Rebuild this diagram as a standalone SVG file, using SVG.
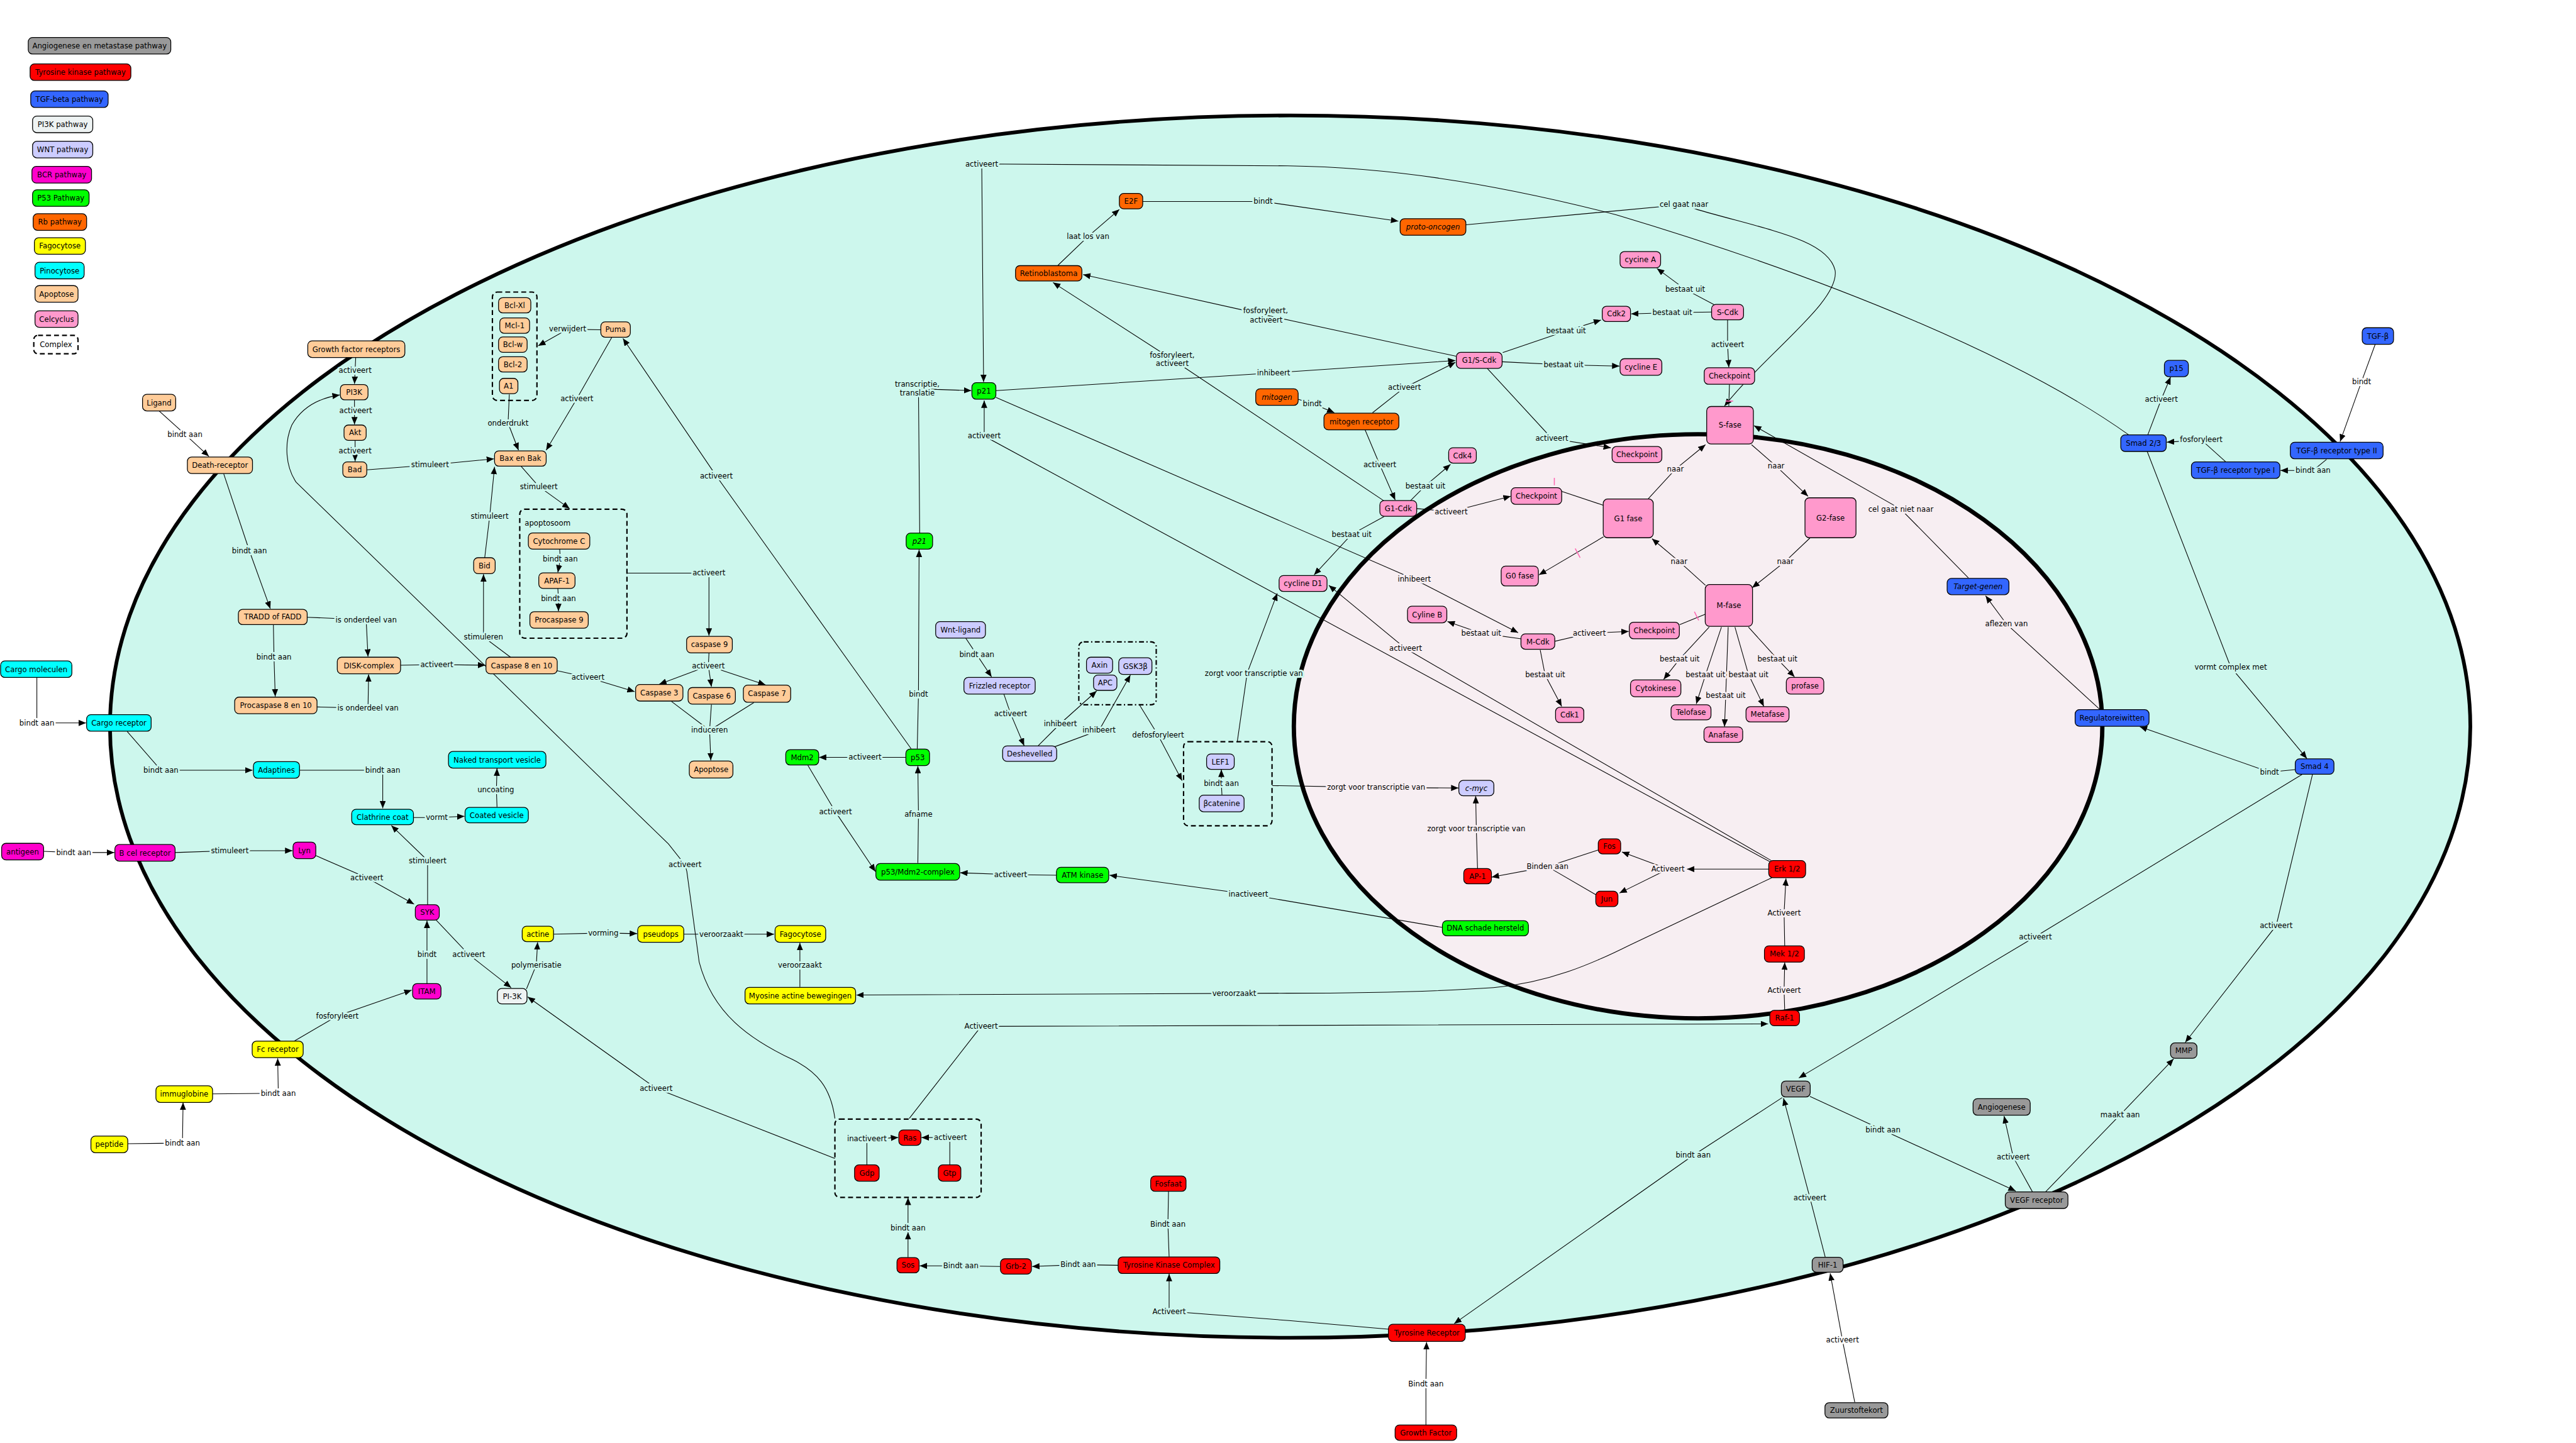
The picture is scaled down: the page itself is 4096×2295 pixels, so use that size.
<svg xmlns="http://www.w3.org/2000/svg" width="4096" height="2295" viewBox="0 0 4096 2295">
<defs>
<marker id="ah" viewBox="0 0 12 10" refX="12" refY="5" markerWidth="12" markerHeight="10" markerUnits="userSpaceOnUse" orient="auto"><path d="M0,0 L12,5 L0,10 z" fill="#000"/></marker>
<style>
.nd rect{stroke:#000;stroke-width:1.3;rx:7px;ry:7px}
.nd text{font:12px "DejaVu Sans",sans-serif;text-anchor:middle;fill:#000}
.it text{font-style:italic}
.gy rect{fill:#999999}.rd rect{fill:#ff0000}.bl rect{fill:#3366ff}.pi rect{fill:#eef3f3}.wn rect{fill:#ccccff}
.bc rect{fill:#ff00cc}.gr rect{fill:#00ff00}.rb rect{fill:#ff6600}.ye rect{fill:#ffff00}.cy rect{fill:#00ffff}
.ap rect{fill:#ffcc99}.cc rect{fill:#ff99cc}.wh rect{fill:#ffffff}
.cx{fill:none;stroke:#000;stroke-width:2.2;stroke-dasharray:8 5;rx:8px;ry:8px}
.cxd{fill:none;stroke:#000;stroke-width:2.2;stroke-dasharray:8 4 2 4;rx:8px;ry:8px}
.e{fill:none;stroke:#000;stroke-width:1.1}
.a{marker-end:url(#ah)}
.pk{stroke:#ff66b2;stroke-width:1.6}
.lb{font:12px "DejaVu Sans",sans-serif;text-anchor:middle;fill:#000;paint-order:stroke;stroke:#cdf7ed;stroke-width:6px;stroke-linejoin:round}
.lb.n{stroke:#f7eef2}
.lb.w{stroke:#ffffff}
.ct{font:12px "DejaVu Sans",sans-serif;fill:#000}
</style>
</defs>
<rect width="4096" height="2295" fill="#fff"/>
<g transform="scale(0.97687)">
<g id="cell">
<ellipse cx="2100" cy="1183" rx="1921" ry="995" fill="#cdf7ed" stroke="#000" stroke-width="6"/>
<ellipse cx="2764" cy="1182.5" rx="658" ry="475.5" fill="#f7eef2" stroke="#000" stroke-width="7"/>
</g>
<g id="complexes">
<rect class="cx" x="801.5" y="475.5" width="72.5" height="176.5"/>
<rect class="cx" x="846" y="829" width="174.5" height="210"/>
<text class="ct" x="854" y="856">apoptosoom</text>
<rect class="cxd" x="1756" y="1045" width="126" height="102.4"/>
<rect class="cx" x="1926.5" y="1207.5" width="144" height="137"/>
<rect class="cx" x="1359" y="1822" width="238" height="127.5"/>
</g>
<g id="connectors">
<path class="e a" d="M259,669 L301,707 L340,743"/>
<path class="e a" d="M579,582 L578,603 L577,625"/>
<path class="e a" d="M577,651 L577,691"/>
<path class="e a" d="M578,717 L578,751"/>
<path class="e a" d="M597,765 L700,757 L804,747"/>
<path class="e a" d="M978,537 L924,536 L876,563"/>
<path class="e a" d="M996,549 L939,649 L889,733"/>
<path class="e a" d="M829,642 L827,689 L844,733"/>
<path class="e a" d="M789,908 L797,841 L805,760"/>
<path class="e a" d="M848,759 L877,792 L927,828"/>
<path class="e a" d="M364,771 L406,897 L440,991"/>
<path class="e a" d="M500,1005 L596,1009 L599,1069"/>
<path class="e a" d="M445,1017 L446,1070 L448,1134"/>
<path class="e a" d="M516,1151 L599,1153 L600,1098"/>
<path class="e a" d="M652,1083 L711,1082 L790,1083"/>
<path class="e a" d="M831,1070 L787,1037 L787,935"/>
<path class="e a" d="M911,894 L912,910 L908,932"/>
<path class="e a" d="M908,958 L909,975 L909,995"/>
<path class="e a" d="M1020,933 L1154,933 L1154,1035"/>
<path class="e a" d="M907,1092 L957,1103 L1033,1126"/>
<path class="e" d="M1154,1063 L1153,1084"/>
<path class="e a" d="M1153,1084 L1073,1114"/>
<path class="e a" d="M1153,1084 L1158,1118"/>
<path class="e a" d="M1153,1084 L1246,1115"/>
<path class="e" d="M1093,1142 L1155,1189 M1158,1147 L1155,1189 M1227,1144 L1155,1189"/>
<path class="e a" d="M1155,1189 L1157,1238"/>
<path class="e a" d="M1483,1219 L1166,775 L1014,551"/>
<path class="e a" d="M60,1103 L60,1177 L140,1177"/>
<path class="e a" d="M207,1191 L262,1254 L411,1254"/>
<path class="e a" d="M488,1254 L623,1254 L623,1316"/>
<path class="e a" d="M673,1331 L711,1331 L756,1329"/>
<path class="e a" d="M809,1314 L808,1286 L809,1251"/>
<path class="e a" d="M71,1386 L120,1388 L186,1388"/>
<path class="e a" d="M285,1388 L374,1385 L476,1385"/>
<path class="e a" d="M514,1393 L597,1429 L674,1472"/>
<path class="e a" d="M696,1473 L696,1401 L637,1344"/>
<path class="e a" d="M695,1601 L695,1554 L695,1499"/>
<path class="e a" d="M710,1498 L763,1554 L832,1608"/>
<path class="e a" d="M857,1610 L873,1571 L875,1534"/>
<path class="e a" d="M901,1521 L982,1519 L1037,1520"/>
<path class="e a" d="M1113,1521 L1174,1521 L1260,1521"/>
<path class="e a" d="M1302,1607 L1302,1571 L1302,1535"/>
<path class="e a" d="M479,1695 L549,1654 L670,1612"/>
<path class="e a" d="M346,1781 L453,1780 L452,1723"/>
<path class="e a" d="M208,1862 L297,1861 L298,1795"/>
<path class="e a" d="M1359,1886 L1068,1772 L859,1623"/>
<path class="e a" d="M1359,1821 C1352,1770 1330,1745 1290,1725 C1220,1692 1160,1650 1138,1566 L1118,1419 L1115,1408 L1088,1374 L482,785 C465,760 462,722 475,692 C492,662 520,648 553,643"/>
<path class="e a" d="M1493,1219 L1495,1130 L1496,895"/>
<path class="e a" d="M1497,868 L1495,633 L1581,636"/>
<path class="e a" d="M3465,708 C3300,590 3000,460 2632,350 C2420,295 2250,272 2096,270 L1598,267 L1601,622"/>
<path class="e a" d="M1860,328 L2056,328 L2276,360"/>
<path class="e a" d="M1722,432 L1771,385 L1822,341"/>
<path class="e a" d="M2370,580 L2060,513 L1763,447"/>
<path class="e a" d="M2252,815 L1908,585 L1714,460"/>
<path class="e a" d="M1621,636 L2073,607 L2369,587"/>
<path class="e a" d="M2113,650 L2136,657 L2172,672"/>
<path class="e a" d="M2234,672 L2286,631 L2369,590"/>
<path class="e a" d="M2222,700 L2246,757 L2271,814"/>
<path class="e a" d="M2296,815 L2320,791 L2361,756"/>
<path class="e a" d="M2446,574 L2549,539 L2606,521"/>
<path class="e a" d="M2445,589 L2545,594 L2636,596"/>
<path class="e a" d="M2421,600 L2526,714 L2622,729"/>
<path class="e a" d="M2790,496 L2743,471 L2697,437"/>
<path class="e a" d="M2786,508 L2722,509 L2655,511"/>
<path class="e a" d="M2812,521 L2812,561 L2814,598"/>
<path class="e" d="M2815,626 L2814,661"/>
<path class="e a" d="M2386,366 L2741,333 L2762,341 C2880,375 2975,390 2987,440 C2995,490 2880,570 2807,661"/>
<path class="e a" d="M3204,941 L3094,829 L2855,693"/>
<path class="e a" d="M2683,812 L2727,764 L2776,724"/>
<path class="e a" d="M2851,724 L2891,759 L2943,808"/>
<path class="e a" d="M2946,876 L2906,914 L2852,957"/>
<path class="e a" d="M2776,953 L2733,914 L2689,877"/>
<path class="e a" d="M2610,874 L2505,936"/>
<path class="e" d="M2776,1000 L2734,1017"/>
<path class="e" d="M2542,800 L2611,823"/>
<path class="e a" d="M2306,828 L2362,833 L2459,808"/>
<path class="e a" d="M2253,841 L2200,870 L2139,936"/>
<path class="e a" d="M1621,647 L2302,943 L2471,1030"/>
<path class="e a" d="M2476,1040 L2411,1031 L2356,1012"/>
<path class="e a" d="M2531,1044 L2587,1031 L2651,1028"/>
<path class="e a" d="M2507,1058 L2515,1099 L2542,1150"/>
<path class="e a" d="M2782,1021 L2734,1073 L2708,1106"/>
<path class="e a" d="M2802,1021 L2776,1099 L2761,1146"/>
<path class="e a" d="M2813,1021 L2809,1132 L2807,1183"/>
<path class="e a" d="M2824,1021 L2846,1098 L2871,1150"/>
<path class="e a" d="M2846,1021 L2893,1073 L2921,1102"/>
<path class="e a" d="M2883,1401 L2288,1056 L2163,953"/>
<path class="e a" d="M2881,1403 L1602,710 L1602,652"/>
<path class="e a" d="M2014,1207 L2030,1096 L2079,966"/>
<path class="e a" d="M2071,1279 L2240,1282 L2374,1283"/>
<path class="e a" d="M2405,1414 L2403,1349 L2402,1296"/>
<path class="e" d="M2601,1384 L2519,1411 M2598,1457 L2519,1411"/>
<path class="e a" d="M2519,1411 L2428,1428"/>
<path class="e a" d="M2879,1415 L2746,1415"/>
<path class="e a" d="M2715,1415 L2640,1387"/>
<path class="e a" d="M2715,1415 L2636,1454"/>
<path class="e a" d="M2905,1540 L2904,1486 L2907,1430"/>
<path class="e a" d="M2905,1645 L2904,1612 L2905,1567"/>
<path class="e a" d="M2884,1429 L2652,1539 C2590,1570 2520,1600 2431,1608 C2300,1617 2150,1617 2096,1617 L1394,1620"/>
<path class="e a" d="M2348,1510 L2032,1456 L1806,1425"/>
<path class="e a" d="M1720,1425 L1645,1424 L1563,1421"/>
<path class="e a" d="M1474,1233 L1408,1233 L1333,1233"/>
<path class="e a" d="M1315,1246 L1360,1322 L1425,1419"/>
<path class="e a" d="M1494,1405 L1495,1326 L1494,1247"/>
<path class="e a" d="M1572,1039 L1590,1066 L1614,1102"/>
<path class="e a" d="M1634,1130 L1645,1162 L1667,1214"/>
<path class="e a" d="M1690,1214 L1726,1178 L1785,1125"/>
<path class="e a" d="M1716,1216 L1789,1189 L1840,1099"/>
<path class="e a" d="M1855,1148 L1885,1197 L1924,1271"/>
<path class="e a" d="M1989,1294 L1988,1276 L1988,1253"/>
<path class="e" d="M1411,1896 L1411,1856"/>
<path class="e a" d="M1443,1853 L1462,1852"/>
<path class="e" d="M1546,1896 L1546,1856"/>
<path class="e a" d="M1520,1852 L1500,1852"/>
<path class="e a" d="M1478,2047 L1478,2006"/>
<path class="e a" d="M1478,1992 L1478,1950"/>
<path class="e a" d="M1628,2062 L1564,2061 L1497,2061"/>
<path class="e a" d="M1820,2060 L1755,2059 L1680,2062"/>
<path class="e" d="M1902,1940 L1901,1993 L1903,2046"/>
<path class="e a" d="M2260,2164 L2098,2150 L1903,2135 L1903,2074"/>
<path class="e a" d="M1480,1821 L1597,1671 L2878,1667"/>
<path class="e a" d="M2321,2320 L2321,2253 L2322,2185"/>
<path class="e a" d="M2901,1787 L2756,1881 L2367,2155"/>
<path class="e a" d="M2971,2047 L2946,1950 L2903,1788"/>
<path class="e a" d="M3019,2283 L2999,2182 L2979,2073"/>
<path class="e a" d="M2946,1785 L3065,1840 L3281,1939"/>
<path class="e a" d="M3308,1940 L3277,1884 L3262,1817"/>
<path class="e a" d="M3330,1940 L3451,1815 L3538,1724"/>
<path class="e a" d="M3764,1261 L3705,1507 L3557,1697"/>
<path class="e a" d="M3747,1261 L3313,1525 L2928,1755"/>
<path class="e a" d="M3736,1253 L3694,1257 L3483,1183"/>
<path class="e a" d="M3418,1155 L3266,1016 L3232,970"/>
<path class="e a" d="M3495,735 L3631,1086 L3755,1235"/>
<path class="e a" d="M3866,561 L3844,621 L3809,719"/>
<path class="e a" d="M3787,748 L3765,766 L3712,766"/>
<path class="e a" d="M3623,752 L3583,716 L3527,720"/>
<path class="e a" d="M3496,708 L3518,650 L3533,614"/>
<path class="pk" d="M2809,653 L2821,653 M2564,893 L2572,908 M2758,996 L2765,1010 M2530,778 L2530,790"/>
<text class="lb w" x="301" y="711">bindt aan</text>
<text class="lb" x="578" y="607">activeert</text>
<text class="lb" x="579" y="673">activeert</text>
<text class="lb" x="578" y="738">activeert</text>
<text class="lb" x="700" y="761">stimuleert</text>
<text class="lb" x="924" y="539">verwijdert</text>
<text class="lb" x="939" y="653">activeert</text>
<text class="lb" x="827" y="693">onderdrukt</text>
<text class="lb" x="797" y="845">stimuleert</text>
<text class="lb" x="877" y="796">stimuleert</text>
<text class="lb" x="406" y="901">bindt aan</text>
<text class="lb" x="596" y="1013">is onderdeel van</text>
<text class="lb" x="446" y="1074">bindt aan</text>
<text class="lb" x="599" y="1157">is onderdeel van</text>
<text class="lb" x="711" y="1086">activeert</text>
<text class="lb" x="787" y="1041">stimuleren</text>
<text class="lb" x="912" y="914">bindt aan</text>
<text class="lb" x="909" y="979">bindt aan</text>
<text class="lb" x="1154" y="937">activeert</text>
<text class="lb" x="957" y="1107">activeert</text>
<text class="lb" x="1153" y="1088">activeert</text>
<text class="lb" x="1155" y="1193">induceren</text>
<text class="lb" x="1166" y="779">activeert</text>
<text class="lb w" x="60" y="1181">bindt aan</text>
<text class="lb" x="262" y="1258">bindt aan</text>
<text class="lb" x="623" y="1258">bindt aan</text>
<text class="lb" x="711" y="1335">vormt</text>
<text class="lb" x="807" y="1290">uncoating</text>
<text class="lb w" x="120" y="1392">bindt aan</text>
<text class="lb" x="374" y="1389">stimuleert</text>
<text class="lb" x="597" y="1433">activeert</text>
<text class="lb" x="696" y="1405">stimuleert</text>
<text class="lb" x="695" y="1558">bindt</text>
<text class="lb" x="763" y="1558">activeert</text>
<text class="lb" x="873" y="1575">polymerisatie</text>
<text class="lb" x="982" y="1523">vorming</text>
<text class="lb" x="1174" y="1525">veroorzaakt</text>
<text class="lb" x="1302" y="1575">veroorzaakt</text>
<text class="lb" x="549" y="1658">fosforyleert</text>
<text class="lb w" x="453" y="1784">bindt aan</text>
<text class="lb w" x="297" y="1865">bindt aan</text>
<text class="lb" x="1068" y="1776">activeert</text>
<text class="lb" x="1115" y="1412">activeert</text>
<text class="lb" x="1495" y="1134">bindt</text>
<text class="lb" x="1493" y="630">transcriptie,</text>
<text class="lb" x="1493" y="644">translatie</text>
<text class="lb" x="1598" y="271">activeert</text>
<text class="lb" x="2056" y="332">bindt</text>
<text class="lb" x="1771" y="389">laat los van</text>
<text class="lb" x="2060" y="510">fosforyleert,</text>
<text class="lb" x="2061" y="525">activeert</text>
<text class="lb" x="1908" y="582">fosforyleert,</text>
<text class="lb" x="1908" y="596">activeert</text>
<text class="lb" x="2073" y="611">inhibeert</text>
<text class="lb" x="2136" y="661">bindt</text>
<text class="lb" x="2286" y="635">activeert</text>
<text class="lb" x="2246" y="761">activeert</text>
<text class="lb" x="2320" y="795">bestaat uit</text>
<text class="lb" x="2549" y="543">bestaat uit</text>
<text class="lb" x="2545" y="598">bestaat uit</text>
<text class="lb" x="2526" y="718">activeert</text>
<text class="lb" x="2743" y="475">bestaat uit</text>
<text class="lb" x="2722" y="513">bestaat uit</text>
<text class="lb" x="2812" y="565">activeert</text>
<text class="lb" x="2741" y="337">cel gaat naar</text>
<text class="lb n" x="3094" y="833">cel gaat niet naar</text>
<text class="lb n" x="2727" y="768">naar</text>
<text class="lb n" x="2891" y="763">naar</text>
<text class="lb n" x="2906" y="918">naar</text>
<text class="lb n" x="2733" y="918">naar</text>
<text class="lb n" x="2362" y="837">activeert</text>
<text class="lb" x="2200" y="874">bestaat uit</text>
<text class="lb n" x="2302" y="947">inhibeert</text>
<text class="lb n" x="2411" y="1035">bestaat uit</text>
<text class="lb n" x="2587" y="1035">activeert</text>
<text class="lb n" x="2515" y="1103">bestaat uit</text>
<text class="lb n" x="2734" y="1077">bestaat uit</text>
<text class="lb n" x="2776" y="1103">bestaat uit</text>
<text class="lb n" x="2809" y="1136">bestaat uit</text>
<text class="lb n" x="2846" y="1102">bestaat uit</text>
<text class="lb n" x="2893" y="1077">bestaat uit</text>
<text class="lb n" x="2288" y="1060">activeert</text>
<text class="lb" x="1602" y="714">activeert</text>
<text class="lb" x="2041" y="1100">zorgt voor transcriptie van</text>
<text class="lb n" x="2240" y="1286">zorgt voor transcriptie van</text>
<text class="lb n" x="2403" y="1353">zorgt voor transcriptie van</text>
<text class="lb n" x="2519" y="1415">Binden aan</text>
<text class="lb n" x="2715" y="1419">Activeert</text>
<text class="lb n" x="2904" y="1490">Activeert</text>
<text class="lb n" x="2904" y="1616">Activeert</text>
<text class="lb" x="2009" y="1622">veroorzaakt</text>
<text class="lb" x="2032" y="1460">inactiveert</text>
<text class="lb" x="1645" y="1428">activeert</text>
<text class="lb" x="1408" y="1237">activeert</text>
<text class="lb" x="1360" y="1326">activeert</text>
<text class="lb" x="1495" y="1330">afname</text>
<text class="lb" x="1590" y="1070">bindt aan</text>
<text class="lb" x="1645" y="1166">activeert</text>
<text class="lb" x="1726" y="1182">inhibeert</text>
<text class="lb" x="1789" y="1193">inhibeert</text>
<text class="lb" x="1885" y="1201">defosforyleert</text>
<text class="lb" x="1988" y="1280">bindt aan</text>
<text class="lb" x="1411" y="1858">inactiveert</text>
<text class="lb" x="1547" y="1856">activeert</text>
<text class="lb" x="1478" y="2003">bindt aan</text>
<text class="lb" x="1564" y="2065">Bindt aan</text>
<text class="lb" x="1755" y="2063">Bindt aan</text>
<text class="lb" x="1901" y="1997">Bindt aan</text>
<text class="lb" x="1903" y="2139">Activeert</text>
<text class="lb" x="1597" y="1675">Activeert</text>
<text class="lb w" x="2321" y="2257">Bindt aan</text>
<text class="lb" x="2756" y="1885">bindt aan</text>
<text class="lb" x="2946" y="1954">activeert</text>
<text class="lb w" x="2999" y="2186">activeert</text>
<text class="lb" x="3065" y="1844">bindt aan</text>
<text class="lb" x="3277" y="1888">activeert</text>
<text class="lb" x="3451" y="1819">maakt aan</text>
<text class="lb" x="3705" y="1511">activeert</text>
<text class="lb" x="3313" y="1529">activeert</text>
<text class="lb" x="3694" y="1261">bindt</text>
<text class="lb n" x="3266" y="1020">aflezen van</text>
<text class="lb" x="3631" y="1090">vormt complex met</text>
<text class="lb w" x="3844" y="625">bindt</text>
<text class="lb" x="3765" y="770">bindt aan</text>
<text class="lb" x="3583" y="720">fosforyleert</text>
<text class="lb" x="3518" y="654">activeert</text>
</g>
<g id="legend">
<g id="lg-angio" class="nd gy"><rect x="46" y="61" width="232" height="27"/><text x="162" y="78.8">Angiogenese en metastase pathway</text></g>
<g id="lg-tyr" class="nd rd"><rect x="49" y="104" width="164" height="27"/><text x="131" y="121.8">Tyrosine kinase pathway</text></g>
<g id="lg-tgf" class="nd bl"><rect x="50" y="148" width="126" height="27"/><text x="113" y="165.8">TGF-beta pathway</text></g>
<g id="lg-pi3k" class="nd pi"><rect x="53" y="189" width="98" height="27"/><text x="102" y="206.8">PI3K pathway</text></g>
<g id="lg-wnt" class="nd wn"><rect x="53" y="230" width="98" height="27"/><text x="102" y="247.8">WNT pathway</text></g>
<g id="lg-bcr" class="nd bc"><rect x="52" y="271" width="97" height="27"/><text x="100.5" y="288.8">BCR pathway</text></g>
<g id="lg-p53" class="nd gr"><rect x="53" y="309" width="92" height="27"/><text x="99" y="326.8">P53 Pathway</text></g>
<g id="lg-rb" class="nd rb"><rect x="54" y="348" width="87" height="27"/><text x="97.5" y="365.8">Rb pathway</text></g>
<g id="lg-fago" class="nd ye"><rect x="56" y="387" width="83" height="27"/><text x="97.5" y="404.8">Fagocytose</text></g>
<g id="lg-pino" class="nd cy"><rect x="57" y="427" width="80" height="27"/><text x="97" y="444.8">Pinocytose</text></g>
<g id="lg-apo" class="nd ap"><rect x="57" y="465" width="70" height="27"/><text x="92" y="482.8">Apoptose</text></g>
<g id="lg-cc" class="nd cc"><rect x="57" y="506" width="70" height="27"/><text x="92" y="523.8">Celcyclus</text></g>
<g id="lg-cx" class="nd"><rect x="55" y="546" width="72" height="30" style="fill:#fff;stroke-dasharray:8 5;stroke-width:2.2"/><text x="91" y="565.3">Complex</text></g>
</g>
<g id="n-growthfr" class="nd ap"><rect x="501" y="555" width="158" height="27"/><text x="580" y="572.8">Growth factor receptors</text></g>
<g id="n-pi3k" class="nd ap"><rect x="554" y="626" width="45" height="25"/><text x="576.5" y="642.8">PI3K</text></g>
<g id="n-akt" class="nd ap"><rect x="560" y="692" width="36" height="25"/><text x="578" y="708.8">Akt</text></g>
<g id="n-bad" class="nd ap"><rect x="558" y="752" width="39" height="25"/><text x="577.5" y="768.8">Bad</text></g>
<g id="n-ligand" class="nd ap"><rect x="232" y="642" width="54" height="27"/><text x="259" y="659.8">Ligand</text></g>
<g id="n-deathr" class="nd ap"><rect x="305" y="744" width="106" height="27"/><text x="358" y="761.8">Death-receptor</text></g>
<g id="n-baxbak" class="nd ap"><rect x="805" y="734" width="84" height="25"/><text x="847" y="750.8">Bax en Bak</text></g>
<g id="n-puma" class="nd ap"><rect x="978" y="524" width="48" height="25"/><text x="1002" y="540.8">Puma</text></g>
<g id="n-bclxl" class="nd ap"><rect x="811.5" y="484.5" width="52.5" height="25"/><text x="837.75" y="501.3">Bcl-Xl</text></g>
<g id="n-mcl1" class="nd ap"><rect x="813.5" y="517.6" width="48.5" height="25"/><text x="837.75" y="534.4">Mcl-1</text></g>
<g id="n-bclw" class="nd ap"><rect x="811.5" y="548.6" width="46.5" height="25"/><text x="834.75" y="565.4">Bcl-w</text></g>
<g id="n-bcl2" class="nd ap"><rect x="811.5" y="580.7" width="46.5" height="25"/><text x="834.75" y="597.5">Bcl-2</text></g>
<g id="n-a1" class="nd ap"><rect x="813" y="616" width="30" height="25"/><text x="828" y="632.8">A1</text></g>
<g id="n-tradd" class="nd ap"><rect x="388" y="992" width="112" height="25"/><text x="444" y="1008.8">TRADD of FADD</text></g>
<g id="n-disk" class="nd ap"><rect x="549" y="1070" width="103" height="27"/><text x="600.5" y="1087.8">DISK-complex</text></g>
<g id="n-procasp810" class="nd ap"><rect x="382" y="1135" width="134" height="27"/><text x="449" y="1152.8">Procaspase 8 en 10</text></g>
<g id="n-casp810" class="nd ap"><rect x="791" y="1070" width="116" height="27"/><text x="849" y="1087.8">Caspase 8 en 10</text></g>
<g id="n-bid" class="nd ap"><rect x="771" y="908" width="35" height="26"/><text x="788.5" y="925.3">Bid</text></g>
<g id="n-cytc" class="nd ap"><rect x="860" y="867.6" width="100" height="26.5"/><text x="910" y="885.2">Cytochrome C</text></g>
<g id="n-apaf" class="nd ap"><rect x="877" y="932.7" width="59" height="25.3"/><text x="906.5" y="949.6">APAF-1</text></g>
<g id="n-procasp9" class="nd ap"><rect x="862.5" y="995.8" width="95" height="27"/><text x="910" y="1013.6">Procaspase 9</text></g>
<g id="n-casp9" class="nd ap"><rect x="1117.6" y="1036" width="74.4" height="27"/><text x="1154.8" y="1053.8">caspase 9</text></g>
<g id="n-casp3" class="nd ap"><rect x="1034.6" y="1114.4" width="77" height="27"/><text x="1073.1" y="1132.2">Caspase 3</text></g>
<g id="n-casp6" class="nd ap"><rect x="1120" y="1119.4" width="77" height="27"/><text x="1158.5" y="1137.2">Caspase 6</text></g>
<g id="n-casp7" class="nd ap"><rect x="1210" y="1115.4" width="77" height="28"/><text x="1248.5" y="1133.7">Caspase 7</text></g>
<g id="n-apoptose" class="nd ap"><rect x="1122" y="1239" width="71" height="27.6"/><text x="1157.5" y="1257.1">Apoptose</text></g>
<g id="n-cargomol" class="nd cy"><rect x="1" y="1076" width="116" height="27"/><text x="59" y="1093.8">Cargo moleculen</text></g>
<g id="n-cargorec" class="nd cy"><rect x="141" y="1163.5" width="105" height="27"/><text x="193.5" y="1181.3">Cargo receptor</text></g>
<g id="n-adaptines" class="nd cy"><rect x="412.5" y="1240" width="75" height="27"/><text x="450" y="1257.8">Adaptines</text></g>
<g id="n-naked" class="nd cy"><rect x="730" y="1223.5" width="158.6" height="27"/><text x="809.3" y="1241.3">Naked transport vesicle</text></g>
<g id="n-clathrine" class="nd cy"><rect x="572.5" y="1317.6" width="100.5" height="25"/><text x="622.75" y="1334.4">Clathrine coat</text></g>
<g id="n-coated" class="nd cy"><rect x="757" y="1314.6" width="103" height="25"/><text x="808.5" y="1331.4">Coated vesicle</text></g>
<g id="n-antigeen" class="nd bc"><rect x="2.7" y="1373" width="68.3" height="27"/><text x="36.85" y="1390.8">antigeen</text></g>
<g id="n-bcr" class="nd bc"><rect x="187" y="1375" width="98" height="27"/><text x="236" y="1392.8">B cel receptor</text></g>
<g id="n-lyn" class="nd bc"><rect x="477" y="1371" width="37" height="27"/><text x="495.5" y="1388.8">Lyn</text></g>
<g id="n-syk" class="nd bc"><rect x="676" y="1473" width="39" height="25"/><text x="695.5" y="1489.8">SYK</text></g>
<g id="n-itam" class="nd bc"><rect x="671.6" y="1601.5" width="46.2" height="25"/><text x="694.7" y="1618.3">ITAM</text></g>
<g id="n-pi3k2" class="nd pi"><rect x="809.6" y="1609.4" width="48.2" height="25"/><text x="833.7" y="1626.2">PI-3K</text></g>
<g id="n-actine" class="nd ye"><rect x="850" y="1508" width="51" height="25"/><text x="875.5" y="1524.8">actine</text></g>
<g id="n-pseudops" class="nd ye"><rect x="1038" y="1507" width="75" height="27"/><text x="1075.5" y="1524.8">pseudops</text></g>
<g id="n-fagocytose" class="nd ye"><rect x="1261.6" y="1507" width="82.4" height="27"/><text x="1302.8" y="1524.8">Fagocytose</text></g>
<g id="n-myosine" class="nd ye"><rect x="1212.7" y="1607.5" width="180" height="27"/><text x="1302.7" y="1625.3">Myosine actine bewegingen</text></g>
<g id="n-fcrec" class="nd ye"><rect x="410.5" y="1695" width="83" height="27"/><text x="452" y="1712.8">Fc receptor</text></g>
<g id="n-immuglobine" class="nd ye"><rect x="253.8" y="1767.8" width="92.2" height="27"/><text x="299.9" y="1785.6">immuglobine</text></g>
<g id="n-peptide" class="nd ye"><rect x="148" y="1849.7" width="60" height="27"/><text x="178" y="1867.5">peptide</text></g>
<g id="n-p21" class="nd gr"><rect x="1582" y="623" width="39" height="27"/><text x="1601.5" y="640.8">p21</text></g>
<g id="n-p21gene" class="nd gr it"><rect x="1475" y="868" width="43" height="26"/><text x="1496.5" y="885.3">p21</text></g>
<g id="n-mdm2" class="nd gr"><rect x="1279" y="1220.5" width="53.6" height="25"/><text x="1305.8" y="1237.3">Mdm2</text></g>
<g id="n-p53" class="nd gr"><rect x="1474.5" y="1219.5" width="38.5" height="27"/><text x="1493.75" y="1237.3">p53</text></g>
<g id="n-p53mdm2" class="nd gr"><rect x="1425.7" y="1406" width="136.3" height="27"/><text x="1493.85" y="1423.8">p53/Mdm2-complex</text></g>
<g id="n-atm" class="nd gr"><rect x="1719.6" y="1412" width="85" height="25"/><text x="1762.1" y="1428.8">ATM kinase</text></g>
<g id="n-dna" class="nd gr"><rect x="2347.8" y="1499" width="140" height="24.5"/><text x="2417.8" y="1515.5">DNA schade hersteld</text></g>
<g id="n-wntlig" class="nd wn"><rect x="1523" y="1012" width="81" height="27"/><text x="1563.5" y="1029.8">Wnt-ligand</text></g>
<g id="n-frizzled" class="nd wn"><rect x="1569" y="1103" width="116" height="27"/><text x="1627" y="1120.8">Frizzled receptor</text></g>
<g id="n-desh" class="nd wn"><rect x="1632" y="1214.5" width="88" height="25"/><text x="1676" y="1231.3">Deshevelled</text></g>
<g id="n-axin" class="nd wn"><rect x="1768.5" y="1070" width="42.5" height="26"/><text x="1789.75" y="1087.3">Axin</text></g>
<g id="n-gsk" class="nd wn"><rect x="1821" y="1071" width="54" height="27"/><text x="1848" y="1088.8">GSK3β</text></g>
<g id="n-apc" class="nd wn"><rect x="1780" y="1099" width="38" height="25"/><text x="1799" y="1115.8">APC</text></g>
<g id="n-lef1" class="nd wn"><rect x="1964" y="1227.5" width="45" height="25"/><text x="1986.5" y="1244.3">LEF1</text></g>
<g id="n-bcat" class="nd wn"><rect x="1952" y="1294.6" width="73" height="27"/><text x="1988.5" y="1312.4">βcatenine</text></g>
<g id="n-cmyc" class="nd wn it"><rect x="2374.6" y="1270.6" width="57" height="25"/><text x="2403.1" y="1287.4">c-myc</text></g>
<g id="n-e2f" class="nd rb"><rect x="1822" y="315" width="38" height="25"/><text x="1841" y="331.8">E2F</text></g>
<g id="n-rb" class="nd rb"><rect x="1653" y="432.5" width="108" height="25"/><text x="1707" y="449.3">Retinoblastoma</text></g>
<g id="n-proto" class="nd rb it"><rect x="2279" y="356" width="107" height="27"/><text x="2332.5" y="373.8">proto-oncogen</text></g>
<g id="n-mitogen" class="nd rb it"><rect x="2044" y="633" width="69" height="27"/><text x="2078.5" y="650.8">mitogen</text></g>
<g id="n-mitorec" class="nd rb"><rect x="2155" y="672.8" width="122" height="27"/><text x="2216" y="690.6">mitogen receptor</text></g>
<g id="n-cycA" class="nd cc"><rect x="2637" y="409.5" width="66" height="26.5"/><text x="2670" y="427">cycine A</text></g>
<g id="n-cdk2" class="nd cc"><rect x="2608" y="498.6" width="46" height="25"/><text x="2631" y="515.4">Cdk2</text></g>
<g id="n-scdk" class="nd cc"><rect x="2786" y="495.6" width="52" height="25"/><text x="2812" y="512.4">S-Cdk</text></g>
<g id="n-g1scdk" class="nd cc"><rect x="2370.5" y="573.7" width="74.5" height="26"/><text x="2407.75" y="591">G1/S-Cdk</text></g>
<g id="n-cycE" class="nd cc"><rect x="2637" y="584" width="68" height="27"/><text x="2671" y="601.8">cycline E</text></g>
<g id="n-chk1" class="nd cc"><rect x="2774" y="598.7" width="82" height="27"/><text x="2815" y="616.5">Checkpoint</text></g>
<g id="n-sfase" class="nd cc"><rect x="2778" y="661.8" width="76" height="61"/><text x="2816" y="696.6">S-fase</text></g>
<g id="n-cdk4" class="nd cc"><rect x="2358" y="729" width="45" height="25"/><text x="2380.5" y="745.8">Cdk4</text></g>
<g id="n-chk2" class="nd cc"><rect x="2624" y="727" width="81" height="26"/><text x="2664.5" y="744.3">Checkpoint</text></g>
<g id="n-g1cdk" class="nd cc"><rect x="2246" y="815" width="60" height="25.6"/><text x="2276" y="832.1">G1-Cdk</text></g>
<g id="n-chk3" class="nd cc"><rect x="2459.6" y="794" width="82.4" height="27"/><text x="2500.8" y="811.8">Checkpoint</text></g>
<g id="n-g1fase" class="nd cc"><rect x="2609.6" y="812.5" width="81.4" height="63"/><text x="2650.3" y="848.3">G1 fase</text></g>
<g id="n-g2fase" class="nd cc"><rect x="2938" y="810.5" width="83" height="65"/><text x="2979.5" y="847.3">G2-fase</text></g>
<g id="n-g0fase" class="nd cc"><rect x="2443.5" y="921.7" width="60.5" height="32.3"/><text x="2473.75" y="942.1">G0 fase</text></g>
<g id="n-mfase" class="nd cc"><rect x="2775.6" y="951.7" width="77" height="68"/><text x="2814.1" y="990">M-fase</text></g>
<g id="n-cycD1" class="nd cc"><rect x="2082" y="937" width="78" height="26"/><text x="2121" y="954.3">cycline D1</text></g>
<g id="n-cycB" class="nd cc"><rect x="2291" y="987" width="64" height="27"/><text x="2323" y="1004.8">Cyline B</text></g>
<g id="n-mcdk" class="nd cc"><rect x="2475.7" y="1032" width="55" height="25"/><text x="2503.2" y="1048.8">M-Cdk</text></g>
<g id="n-chk4" class="nd cc"><rect x="2652" y="1013" width="81.5" height="27"/><text x="2692.75" y="1030.8">Checkpoint</text></g>
<g id="n-cytokinese" class="nd cc"><rect x="2654" y="1107" width="82" height="27.4"/><text x="2695" y="1125">Cytokinese</text></g>
<g id="n-profase" class="nd cc"><rect x="2907.6" y="1103" width="61" height="27"/><text x="2938.1" y="1120.8">profase</text></g>
<g id="n-telofase" class="nd cc"><rect x="2720" y="1147.4" width="65" height="24.6"/><text x="2752.5" y="1164">Telofase</text></g>
<g id="n-metafase" class="nd cc"><rect x="2842" y="1150.4" width="70" height="25"/><text x="2877" y="1167.2">Metafase</text></g>
<g id="n-cdk1" class="nd cc"><rect x="2532" y="1151.4" width="46" height="25"/><text x="2555" y="1168.2">Cdk1</text></g>
<g id="n-anafase" class="nd cc"><rect x="2773.6" y="1183.5" width="63" height="25"/><text x="2805.1" y="1200.3">Anafase</text></g>
<g id="n-fos" class="nd rd"><rect x="2601.5" y="1365.7" width="36.5" height="24.5"/><text x="2619.75" y="1382.2">Fos</text></g>
<g id="n-ap1" class="nd rd"><rect x="2382.6" y="1414" width="45" height="25"/><text x="2405.1" y="1430.8">AP-1</text></g>
<g id="n-jun" class="nd rd"><rect x="2597.5" y="1451" width="36" height="25"/><text x="2615.5" y="1467.8">Jun</text></g>
<g id="n-erk" class="nd rd"><rect x="2879" y="1401" width="60" height="28"/><text x="2909" y="1419.3">Erk 1/2</text></g>
<g id="n-mek" class="nd rd"><rect x="2872" y="1540" width="65" height="26.4"/><text x="2904.5" y="1557.5">Mek 1/2</text></g>
<g id="n-raf" class="nd rd"><rect x="2880.8" y="1645" width="48.2" height="25"/><text x="2904.9" y="1661.8">Raf-1</text></g>
<g id="n-ras" class="nd rd"><rect x="1463" y="1839.7" width="36" height="25"/><text x="1481" y="1856.5">Ras</text></g>
<g id="n-gdp" class="nd rd"><rect x="1391" y="1896.6" width="40" height="26.4"/><text x="1411" y="1914.1">Gdp</text></g>
<g id="n-gtp" class="nd rd"><rect x="1527.4" y="1896.6" width="36.6" height="26.4"/><text x="1545.7" y="1914.1">Gtp</text></g>
<g id="n-fosfaat" class="nd rd"><rect x="1873" y="1914.6" width="57.5" height="25"/><text x="1901.75" y="1931.4">Fosfaat</text></g>
<g id="n-sos" class="nd rd"><rect x="1460" y="2047.4" width="36" height="25"/><text x="1478" y="2064.2">Sos</text></g>
<g id="n-grb2" class="nd rd"><rect x="1628.5" y="2049.4" width="50.3" height="25"/><text x="1653.65" y="2066.2">Grb-2</text></g>
<g id="n-tkc" class="nd rd"><rect x="1820" y="2046.4" width="165.5" height="27"/><text x="1902.75" y="2064.2">Tyrosine Kinase Complex</text></g>
<g id="n-tyrrec" class="nd rd"><rect x="2260" y="2156" width="125" height="28"/><text x="2322.5" y="2174.3">Tyrosine Receptor</text></g>
<g id="n-growthf" class="nd rd"><rect x="2270.8" y="2320" width="100.2" height="25"/><text x="2320.9" y="2336.8">Growth Factor</text></g>
<g id="n-tgfb" class="nd bl"><rect x="3845" y="533.6" width="51" height="27"/><text x="3870.5" y="551.4">TGF-β</text></g>
<g id="n-p15" class="nd bl"><rect x="3523" y="586.7" width="39" height="26.5"/><text x="3542.5" y="604.2">p15</text></g>
<g id="n-smad23" class="nd bl"><rect x="3452" y="708" width="74" height="27"/><text x="3489" y="725.8">Smad 2/3</text></g>
<g id="n-tgfr2" class="nd bl"><rect x="3728" y="720" width="151" height="27"/><text x="3803.5" y="737.8">TGF-β receptor type II</text></g>
<g id="n-tgfr1" class="nd bl"><rect x="3567" y="752" width="144" height="27"/><text x="3639" y="769.8">TGF-β receptor type I</text></g>
<g id="n-target" class="nd bl it"><rect x="3169.4" y="941.7" width="100.6" height="26.5"/><text x="3219.7" y="959.2">Target-genen</text></g>
<g id="n-reg" class="nd bl"><rect x="3377.7" y="1155.4" width="120.3" height="27"/><text x="3437.85" y="1173.2">Regulatoreiwitten</text></g>
<g id="n-smad4" class="nd bl"><rect x="3736" y="1235.5" width="63" height="25"/><text x="3767.5" y="1252.3">Smad 4</text></g>
<g id="n-vegf" class="nd gy"><rect x="2899.5" y="1760" width="47" height="26"/><text x="2923" y="1777.3">VEGF</text></g>
<g id="n-hif" class="nd gy"><rect x="2949.7" y="2047" width="50.3" height="24.4"/><text x="2974.85" y="2063.5">HIF-1</text></g>
<g id="n-zuurstof" class="nd gy"><rect x="2970.5" y="2283.6" width="102.5" height="25"/><text x="3021.75" y="2300.4">Zuurstoftekort</text></g>
<g id="n-mmp" class="nd gy"><rect x="3533" y="1698" width="43" height="25"/><text x="3554.5" y="1714.8">MMP</text></g>
<g id="n-angio" class="nd gy"><rect x="3211.6" y="1788.7" width="93" height="27"/><text x="3258.1" y="1806.5">Angiogenese</text></g>
<g id="n-vegfr" class="nd gy"><rect x="3264" y="1940.5" width="102" height="27"/><text x="3315" y="1958.3">VEGF receptor</text></g>
</g>
</svg>
